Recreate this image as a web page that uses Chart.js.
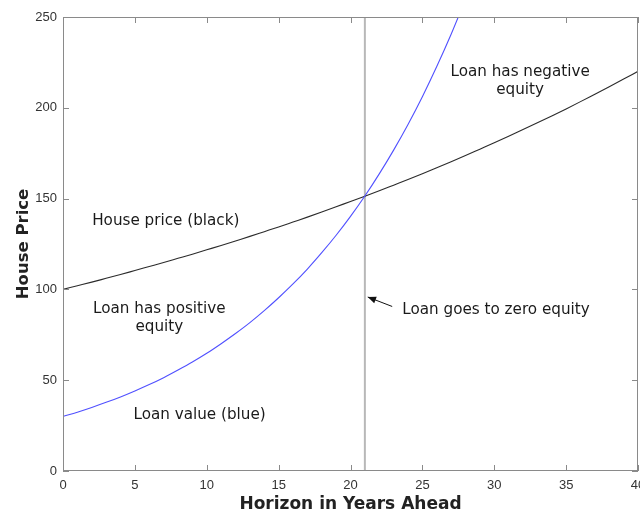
<!DOCTYPE html>
<html>
<head>
<meta charset="utf-8">
<script src="https://cdn.jsdelivr.net/npm/chart.js@4.4.1/dist/chart.umd.min.js"></script>
<style>
html, body { margin: 0; padding: 0; background: #fff; }
</style>
</head>
<body>
<canvas id="c" width="640" height="515"></canvas>
<script>
// values
var years = [0,1,2,3,4,5,6,7,8,9,10,11,12,13,14,15,16,17,18,19,20,21,22,23,24,25,26,27,28,29,30,31,32,33,34,35,36,37,38,39,40];
var housePrice = [100.0,102.0,104.0,106.1,108.2,110.4,112.6,114.8,117.1,119.4,121.8,124.2,126.7,129.2,131.8,134.4,137.1,139.8,142.6,145.5,148.4,151.3,154.3,157.4,160.5,163.7,167.0,170.3,173.7,177.2,180.7,184.3,188.0,191.7,195.5,199.4,203.4,207.5,211.6,215.8,220.1];
var loanYears = [0,1,2,3,4,5,6,7,8,9,10,11,12,13,14,15,16,17,18,19,20,21,22,23,24,25,26,27,28];
var loanValue = [30.0,32.4,35.0,37.8,40.8,44.1,47.6,51.4,55.6,60.0,64.8,70.1,75.7,81.7,88.3,95.4,103.0,111.2,120.2,129.8,140.2,151.4,163.6,176.7,190.8,206.1,222.7,240.5,259.8];
var zeroEquityYear = 21;
var xTicks = [0,5,10,15,20,25,30,35,40];
var yTicks = [0,50,100,150,200,250];

var notes = [
    { lines: ['House price (black)'], x: 7.15, y: 137.7 },
    { lines: ['Loan has positive', 'equity'], x: 6.7, y: 89.2 },
    { lines: ['Loan value (blue)'], x: 9.5, y: 30.8 },
    { lines: ['Loan has negative', 'equity'], x: 31.8, y: 219.7 },
    { lines: ['Loan goes to zero equity'], x: 23.6, y: 88.7, align: 'left' }
];
var arrow = { fromX: 22.9, fromY: 90.6, toX: 21.2, toY: 95.8 };

function pts(xs, ys) {
    return xs.map(function(x, i) { return { x: x, y: ys[i] }; });
}

var noteFont = '15.2px "DejaVu Sans", sans-serif';

var framePlugin = {
    id: 'frame',
    afterDatasetsDraw: function(chart) {
        var ctx = chart.ctx, a = chart.chartArea;
        var xs = chart.scales.x, ys = chart.scales.y;
        ctx.save();
        ctx.strokeStyle = '#8a8a8a';
        ctx.lineWidth = 1;
        ctx.strokeRect(a.left + 0.5, a.top + 0.5, a.right - a.left - 1, a.bottom - a.top - 1);
        ctx.beginPath();
        xTicks.forEach(function(t) {
            var px = Math.round(xs.getPixelForValue(t)) + 0.5;
            ctx.moveTo(px, a.bottom); ctx.lineTo(px, a.bottom - 6);
            ctx.moveTo(px, a.top); ctx.lineTo(px, a.top + 6);
        });
        yTicks.forEach(function(t) {
            var py = Math.round(ys.getPixelForValue(t)) + 0.5;
            ctx.moveTo(a.left, py); ctx.lineTo(a.left + 6, py);
            ctx.moveTo(a.right, py); ctx.lineTo(a.right - 6, py);
        });
        ctx.stroke();

        // text notes
        ctx.fillStyle = '#1a1a1a';
        ctx.font = noteFont;
        ctx.textBaseline = 'middle';
        notes.forEach(function(n) {
            ctx.textAlign = n.align || 'center';
            var px = xs.getPixelForValue(n.x), py = ys.getPixelForValue(n.y);
            n.lines.forEach(function(line, i) { ctx.fillText(line, px, py + i * 18); });
        });

        // arrow
        var x0 = xs.getPixelForValue(arrow.fromX), y0 = ys.getPixelForValue(arrow.fromY);
        var x1 = xs.getPixelForValue(arrow.toX), y1 = ys.getPixelForValue(arrow.toY);
        var ang = Math.atan2(y1 - y0, x1 - x0);
        ctx.strokeStyle = '#111';
        ctx.beginPath();
        ctx.moveTo(x0, y0); ctx.lineTo(x1, y1);
        ctx.stroke();
        ctx.fillStyle = '#111';
        ctx.beginPath();
        ctx.moveTo(x1, y1);
        ctx.lineTo(x1 - 9 * Math.cos(ang - 0.4), y1 - 9 * Math.sin(ang - 0.4));
        ctx.lineTo(x1 - 9 * Math.cos(ang + 0.4), y1 - 9 * Math.sin(ang + 0.4));
        ctx.closePath();
        ctx.fill();
        ctx.restore();
    }
};

new Chart(document.getElementById('c'), {
    type: 'line',
    data: {
        datasets: [
            { data: pts(loanYears, loanValue), borderColor: '#5050ff', borderWidth: 1.1, pointRadius: 0, cubicInterpolationMode: 'monotone', order: 1 },
            { data: pts(years, housePrice), borderColor: '#2b2b2b', borderWidth: 1.1, pointRadius: 0, cubicInterpolationMode: 'monotone', order: 2 },
            { data: [{ x: zeroEquityYear, y: 0 }, { x: zeroEquityYear, y: 250 }], borderColor: '#b8b8b8', borderWidth: 2, pointRadius: 0, order: 3 }
        ]
    },
    options: {
        responsive: false,
        animation: false,
        events: [],
        layout: { padding: { top: 17, right: 2, left: 0, bottom: 0 } },
        plugins: { legend: { display: false }, tooltip: { enabled: false } },
        scales: {
            x: {
                type: 'linear', min: 0, max: 40,
                grid: { display: false, drawTicks: false },
                border: { display: false },
                ticks: { stepSize: 5, padding: 7, color: '#333', font: { family: '"Liberation Sans", Arial, sans-serif', size: 13 }, maxRotation: 0 },
                title: { display: true, text: 'Horizon in Years Ahead', color: '#222', padding: { top: 2, bottom: 0 },
                    font: { family: '"DejaVu Sans", sans-serif', size: 17, weight: 'bold' } },
                afterFit: function(s) { s.height = 44; s.paddingRight = 0; s.paddingLeft = 0; }
            },
            y: {
                min: 0, max: 250,
                grid: { display: false, drawTicks: false },
                border: { display: false },
                ticks: { stepSize: 50, padding: 6, color: '#333', font: { family: '"Liberation Sans", Arial, sans-serif', size: 13 } },
                title: { display: true, text: 'House Price', color: '#222', padding: { top: 14, bottom: 4 },
                    font: { family: '"DejaVu Sans", sans-serif', size: 16.5, weight: 'bold' } },
                afterFit: function(s) { s.width = 63; }
            }
        }
    },
    plugins: [framePlugin]
});
</script>
</body>
</html>
